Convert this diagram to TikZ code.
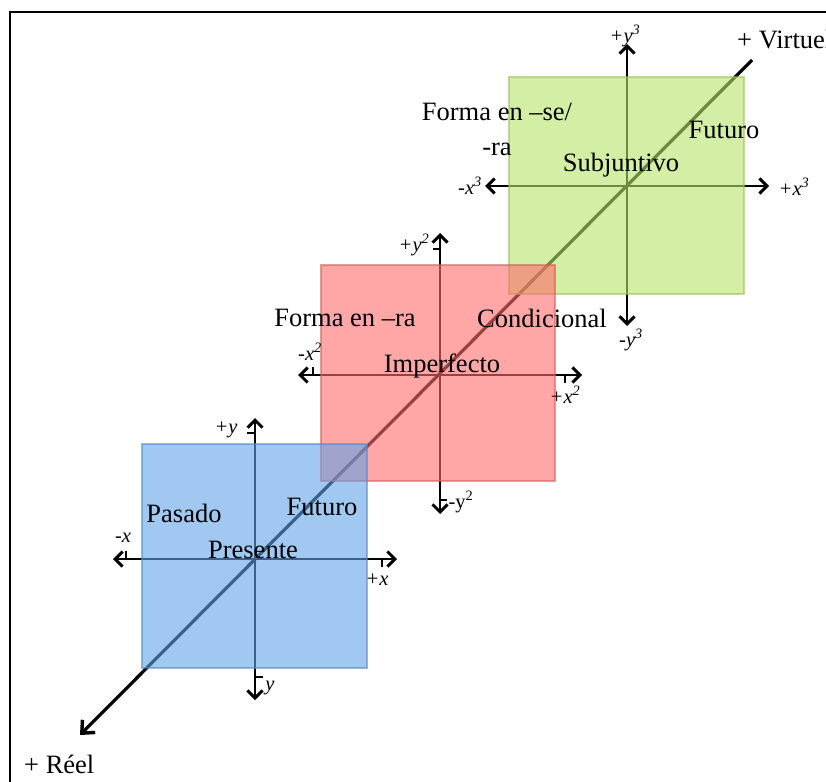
\documentclass[tikz,border=0pt]{standalone}
\usepackage{fontspec}
\setmainfont{Liberation Serif}
\usetikzlibrary{arrows.meta}
\definecolor{bfill}{RGB}{97,163,230}
\definecolor{rfill}{RGB}{255,107,107}
\definecolor{gfill}{RGB}{182,227,105}
\begin{document}
\begin{tikzpicture}[x=1pt,y=-1pt,
  frame/.style={line width=2pt,black},
  diag/.style={line width=3.2pt,black,-{Straight Barb[length=10pt,width=18pt,line width=3.4pt]}},
  axis/.style={line width=2.4pt,black,{Straight Barb[length=7.5pt,width=15pt,line width=3pt]}-{Straight Barb[length=7.5pt,width=15pt,line width=3pt]}},
  tick/.style={line width=1.3pt,black},
  sq/.style={inner sep=0pt,outer sep=0pt,fill opacity=0.6,draw opacity=0.6,line width=1.2pt},
  big/.style={font=\fontsize{26.5}{33}\selectfont,inner sep=0pt,align=center},
  small/.style={font=\fontsize{20.5}{24}\selectfont,inner sep=0pt}]
\useasboundingbox (0,0) rectangle (826,781);
% frame
\coordinate (f1) at (10,790);
\coordinate (f2) at (10,12);
\coordinate (f3) at (835,12);
\draw[frame] (f1) -- (f2) -- (f3);
% diagonal
\coordinate (V) at (752,60);
\coordinate (R) at (80,735);
\draw[diag] (V) -- (R);
% blue axes
\coordinate (bl) at (113,559); \coordinate (br) at (397,559);
\coordinate (bt) at (255,418); \coordinate (bb) at (255,700);
\draw[axis] (bl) -- (br);
\draw[axis] (bb) -- (bt);
\coordinate (t1a) at (126,551); \coordinate (t1b) at (126,559);
\coordinate (t2a) at (382,559); \coordinate (t2b) at (382,567);
\coordinate (t3a) at (247,433); \coordinate (t3b) at (255,433);
\coordinate (t4a) at (255,677); \coordinate (t4b) at (263,677);
\draw[tick] (t1a) -- (t1b); \draw[tick] (t2a) -- (t2b);
\draw[tick] (t3a) -- (t3b); \draw[tick] (t4a) -- (t4b);
% red axes
\coordinate (rl) at (298,375); \coordinate (rr) at (582,375);
\coordinate (rt) at (440,233); \coordinate (rb) at (440,514);
\draw[axis] (rl) -- (rr);
\draw[axis] (rb) -- (rt);
\coordinate (u1a) at (313,367); \coordinate (u1b) at (313,375);
\coordinate (u2a) at (565,375); \coordinate (u2b) at (565,383);
\coordinate (u3a) at (433,249); \coordinate (u3b) at (440,249);
\coordinate (u4a) at (440,500); \coordinate (u4b) at (447,500);
\draw[tick] (u1a) -- (u1b); \draw[tick] (u2a) -- (u2b);
\draw[tick] (u3a) -- (u3b); \draw[tick] (u4a) -- (u4b);
% green axes
\coordinate (gl) at (485,186); \coordinate (gr) at (769,186);
\coordinate (gt) at (627,44); \coordinate (gb) at (627,326);
\draw[axis] (gl) -- (gr);
\draw[axis] (gb) -- (gt);
% squares
\node[sq,fill=gfill,draw=gfill!85!black,minimum width=235pt,minimum height=217pt] (gsq) at (626.5,185.5) {};
\node[sq,fill=rfill,draw=rfill!85!black,minimum width=234pt,minimum height=216pt] (rsq) at (438,373) {};
\node[sq,fill=bfill,draw=bfill!85!black,minimum width=225pt,minimum height=224pt] (bsq) at (254.5,556) {};
% labels
\node[big,anchor=west] (virt) at (737,40) {+ Virtuel};
\node[big,anchor=west] (reel) at (24,764) {+ Réel};
% green labels
\node[small] (gyp) at (625,36) {\itshape +y\textsuperscript{3}};
\node[small] (gym) at (631,340) {\itshape -y\textsuperscript{3}};
\node[small] (gxm) at (470,186) {\itshape -x\textsuperscript{3}};
\node[small] (gxp) at (794,187) {\itshape +x\textsuperscript{3}};
\node[big] (forma3) at (497,129) {Forma en –se/\\[2pt]-ra};
\node[big] (fut3) at (724,130) {Futuro};
\node[big] (subj) at (621,165) {Subjuntivo};
% red labels
\node[small] (ryp) at (414,245) {\itshape +y\textsuperscript{2}};
\node[small] (rym) at (461,502) {-y\textsuperscript{2}};
\node[small] (rxm) at (310,352) {\itshape -x\textsuperscript{2}};
\node[small] (rxp) at (565,395) {\itshape +x\textsuperscript{2}};
\node[big] (forma2) at (345,318) {Forma en –ra};
\node[big] (cond) at (542,318) {Condicional};
\node[big] (imp) at (442,366) {Imperfecto};
% blue labels
\node[small] (byp) at (226,430) {\itshape +y};
\node[small] (bym) at (270,688) {\itshape y};
\node[small] (bxm) at (123,538) {\itshape -x};
\node[small] (bxp) at (377,580) {\itshape +x};
\node[big] (pas) at (184,513) {Pasado};
\node[big] (fut1) at (322,507) {Futuro};
\node[big] (pres) at (253,550) {Presente};
\end{tikzpicture}
\end{document}
